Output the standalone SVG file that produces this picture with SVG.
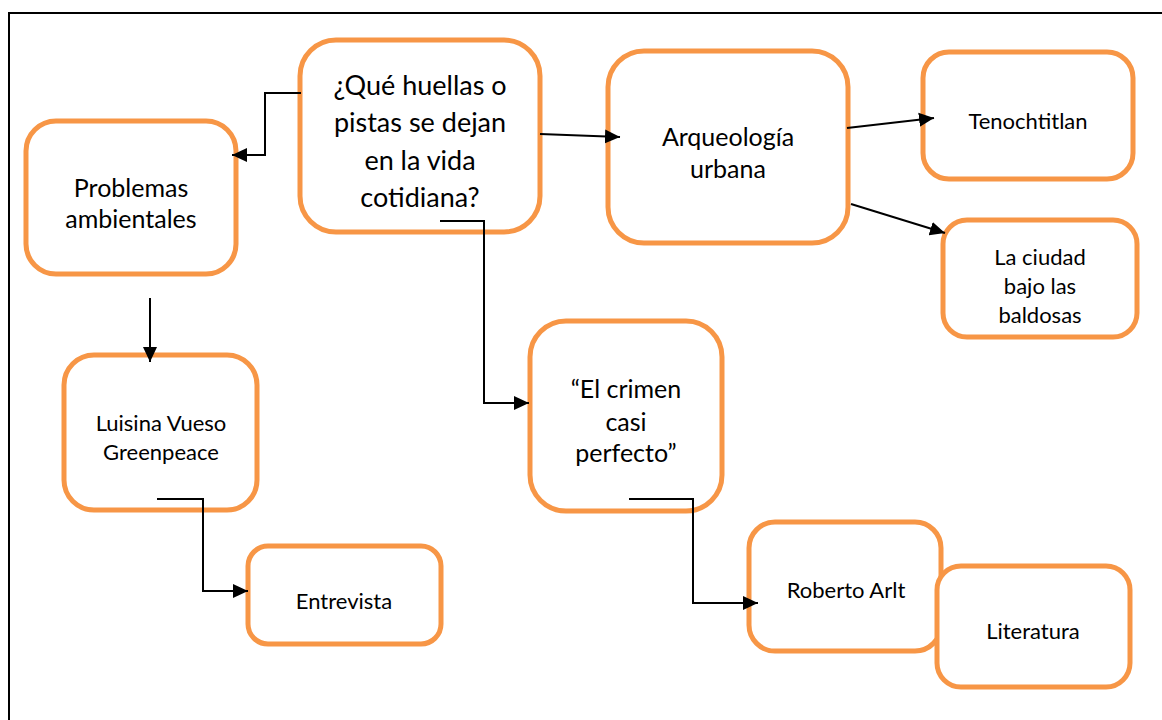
<svg xmlns="http://www.w3.org/2000/svg" width="1162" height="720" viewBox="0 0 1162 720">
<style>
.box{fill:#fff;stroke:#F79646;stroke-width:5}
.t{font-family:Lato,"Open Sans","Noto Sans",sans-serif;font-size:22px;fill:#000;text-anchor:middle}
.m{font-size:25px}
.big{font-size:27px}
.c{fill:none;stroke:#000;stroke-width:2}
</style>
<defs>
<marker id="ah" markerUnits="userSpaceOnUse" markerWidth="16" markerHeight="16" viewBox="0 0 16 16" refX="15" refY="8" orient="auto">
<path d="M0,1 L15,8 L0,15 Z" fill="#000"/>
</marker>
</defs>
<rect width="1162" height="720" fill="#fff"/>
<path d="M9,720 V13 H1162" fill="none" stroke="#000" stroke-width="2"/>

<g id="n-central">
<rect class="box" x="300" y="40" width="240" height="192" rx="36"/>
<text class="t big" x="420" y="95">¿Qué huellas o</text>
<text class="t big" x="420" y="132">pistas se dejan</text>
<text class="t big" x="420" y="170">en la vida</text>
<text class="t big" x="420" y="207">cotidiana?</text>
</g>
<g id="n-problemas">
<rect class="box" x="26" y="121" width="210" height="153" rx="30"/>
<text class="t m" x="131" y="197">Problemas</text>
<text class="t m" x="131" y="228">ambientales</text>
</g>
<g id="n-arqueologia">
<rect class="box" x="608" y="51" width="240" height="192" rx="36"/>
<text class="t m" x="728" y="146">Arqueología</text>
<text class="t m" x="728" y="178">urbana</text>
</g>
<g id="n-tenochtitlan">
<rect class="box" x="923" y="52" width="210" height="127" rx="26"/>
<text class="t" x="1028" y="129">Tenochtitlan</text>
</g>
<g id="n-ciudad">
<rect class="box" x="943" y="220" width="194" height="117" rx="24"/>
<text class="t" x="1040" y="265">La ciudad</text>
<text class="t" x="1040" y="294">bajo las</text>
<text class="t" x="1040" y="323">baldosas</text>
</g>
<g id="n-luisina">
<rect class="box" x="64" y="355" width="193" height="155" rx="30"/>
<text class="t" x="161" y="431">Luisina Vueso</text>
<text class="t" x="161" y="460">Greenpeace</text>
</g>
<g id="n-entrevista">
<rect class="box" x="248" y="546" width="193" height="98" rx="20"/>
<text class="t" x="344" y="609">Entrevista</text>
</g>
<g id="n-crimen">
<rect class="box" x="530" y="321" width="192" height="190" rx="36"/>
<text class="t m" x="626" y="398">“El crimen</text>
<text class="t m" x="626" y="431">casi</text>
<text class="t m" x="626" y="462">perfecto”</text>
</g>
<g id="n-roberto">
<rect class="box" x="749" y="522" width="192" height="129" rx="26"/>
<text class="t" x="846" y="598">Roberto Arlt</text>
</g>
<g id="n-literatura">
<rect class="box" x="937" y="566" width="193" height="121" rx="24"/>
<text class="t" x="1033" y="639">Literatura</text>
</g>

<g id="connectors">
<path class="c" d="M301,93 H265 V155 H232" marker-end="url(#ah)"/>
<path class="c" d="M540,134 L620,137" marker-end="url(#ah)"/>
<path class="c" d="M440,221 H484 V403 H529" marker-end="url(#ah)"/>
<path class="c" d="M150,298 V362" marker-end="url(#ah)"/>
<path class="c" d="M157,499 H203 V591 H248" marker-end="url(#ah)"/>
<path class="c" d="M629,499 H693 V603 H758" marker-end="url(#ah)"/>
<path class="c" d="M847,128 L934,118" marker-end="url(#ah)"/>
<path class="c" d="M851,204 L945,233" marker-end="url(#ah)"/>
</g>
</svg>
